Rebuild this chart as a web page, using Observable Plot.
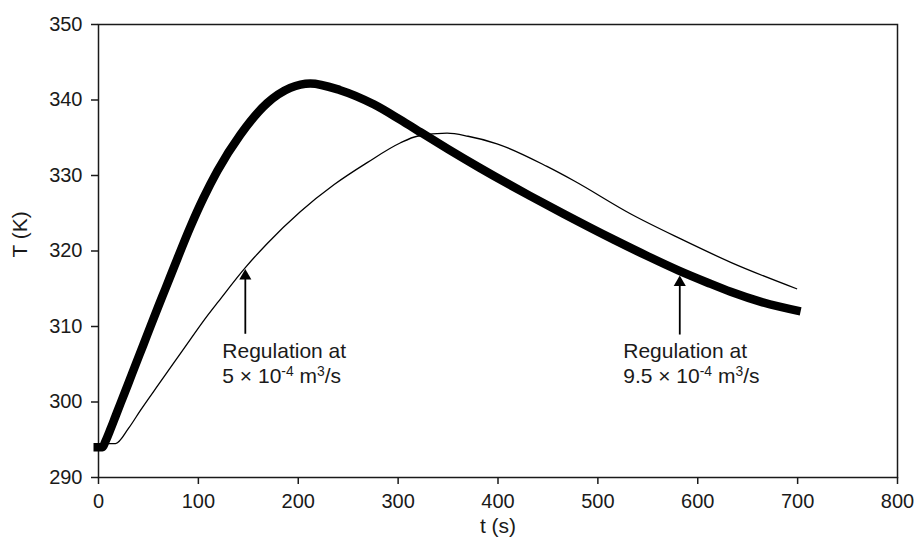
<!DOCTYPE html>
<html>
<head>
<meta charset="utf-8">
<script src="https://cdn.jsdelivr.net/npm/d3@7"></script>
<script src="https://cdn.jsdelivr.net/npm/@observablehq/plot@0.6"></script>
<style>
  html, body { margin: 0; padding: 0; background: #fff; }
  #chart { width: 918px; height: 538px; }
</style>
</head>
<body>
<div id="chart"></div>
<script>
// Thick curve: regulation at 9.5e-4 m3/s
const thickTime = [-5, 4, 7, 12, 17, 22, 30, 37, 45, 52, 60, 67, 76, 92, 105, 119, 142, 169, 192, 212, 242, 276, 302, 324, 350, 382, 410, 432, 466, 516, 550, 581, 610, 633, 665, 703];
const thickTemp = [294.0, 294.0, 294.8, 296.4, 298.1, 299.8, 302.5, 304.9, 307.6, 310.0, 312.7, 315.0, 318.0, 323.2, 327.0, 330.6, 335.4, 339.6, 341.6, 342.2, 341.3, 339.4, 337.4, 335.6, 333.5, 331.0, 328.9, 327.3, 324.9, 321.5, 319.3, 317.4, 315.8, 314.6, 313.2, 312.0];

// Thin curve: regulation at 5e-4 m3/s
const thinTime = [5, 17, 30, 42, 60, 75, 92, 110, 120, 147, 169, 202, 236, 269, 302, 319, 349, 370, 399, 449, 476, 533, 583, 633, 699];
const thinTemp = [294.5, 294.5, 296.5, 298.9, 302.3, 305.1, 308.3, 311.6, 313.3, 317.8, 321.0, 325.2, 328.8, 331.7, 334.3, 335.2, 335.6, 335.2, 334.2, 331.2, 329.3, 324.9, 321.6, 318.5, 315.0];

// Axis ticks
const xTicks = [0, 100, 200, 300, 400, 500, 600, 700, 800];
const yTicks = [290, 300, 310, 320, 330, 340, 350];

// Annotations
const arrowX = [147, 582];
const arrowTip = [317.6, 316.75];
const arrowTail = [309.5, 309.4];
const labelX = [124, 525.4];
const labelLine1 = ["Regulation at", "Regulation at"];
const labelLine2 = ["5 × 10^{-4} m^{3}/s", "9.5 × 10^{-4} m^{3}/s"];
const labelLine1Y = [305.83, 305.83];
const labelLine2Y = [302.58, 302.58];

const thick = thickTime.map((t, i) => ({t, T: thickTemp[i]}));
const thin = thinTime.map((t, i) => ({t, T: thinTemp[i]}));
const arrows = arrowX.map((x, i) => ({x, tip: arrowTip[i], tail: arrowTail[i]}));
const labels = labelX.map((x, i) => ({x, l1: labelLine1[i], l2: labelLine2[i], y1: labelLine1Y[i], y2: labelLine2Y[i]}));

const ink = "#1a1a1a";
const tickFs = 20;
const textFs = 21;

const chart = Plot.plot({
  width: 918,
  height: 538,
  marginLeft: 98,
  marginRight: 21,
  marginTop: 24,
  marginBottom: 61,
  style: {fontFamily: "'Liberation Sans', Arial, Helvetica, sans-serif", background: "#fff", color: ink},
  x: {domain: [0, 800], axis: null},
  y: {domain: [290, 350], axis: null},
  marks: [
    Plot.axisX({ticks: xTicks, tickSize: 7, tickPadding: 9, fontSize: tickFs, stroke: ink, strokeWidth: 1.5, label: null, tickFormat: d => String(d)}),
    Plot.axisY({ticks: yTicks, tickSize: 7, tickPadding: 9, fontSize: tickFs, stroke: ink, strokeWidth: 1.5, label: null, tickFormat: d => String(d)}),
    Plot.frame({stroke: ink, strokeWidth: 1.5}),
    Plot.line(thin, {x: "t", y: "T", stroke: "#000", strokeWidth: 1.3, curve: "monotone-x"}),
    Plot.line(thick, {x: "t", y: "T", stroke: "#000", strokeWidth: 8.5, curve: "monotone-x", strokeLinecap: "butt"}),
    Plot.ruleX(arrows, {x: "x", y1: "tail", y2: "tip", stroke: "#000", strokeWidth: 1.8, dy: 4}),
    Plot.dot(arrows, {x: "x", y: "tip", symbol: "triangle", r: 4.5, fill: "#000", stroke: "none", dy: 7}),
    Plot.text(labels, {x: "x", y: "y1", text: "l1", textAnchor: "start", lineAnchor: "bottom", fontSize: textFs, fill: ink}),
    Plot.text(labels, {x: "x", y: "y2", text: "l2", textAnchor: "start", lineAnchor: "bottom", fontSize: textFs, fill: ink}),
    Plot.text(["t (s)"], {frameAnchor: "bottom", dy: 55, lineAnchor: "bottom", fontSize: textFs, fill: ink}),
    Plot.text(["T (K)"], {frameAnchor: "left", dx: -78, dy: 6.5, rotate: -90, lineAnchor: "middle", fontSize: textFs, fill: ink})
  ]
});

// Turn ^{...} markup into real superscript tspans
d3.select(chart).selectAll("text").each(function() {
  const s = this.textContent;
  if (!s.includes("^{")) return;
  const parts = s.split(/\^\{([^}]*)\}/);
  const el = d3.select(this);
  el.text(null);
  let raised = false;
  parts.forEach((p, i) => {
    if (p === "") return;
    const sup = i % 2 === 1;
    const ts = el.append("tspan").text(p);
    if (sup) {
      ts.attr("font-size", (textFs * 0.66).toFixed(1));
      if (!raised) { ts.attr("dy", -7); raised = true; }
    } else if (raised) {
      ts.attr("dy", 7);
      raised = false;
    }
  });
});

document.getElementById("chart").appendChild(chart);
</script>
</body>
</html>
